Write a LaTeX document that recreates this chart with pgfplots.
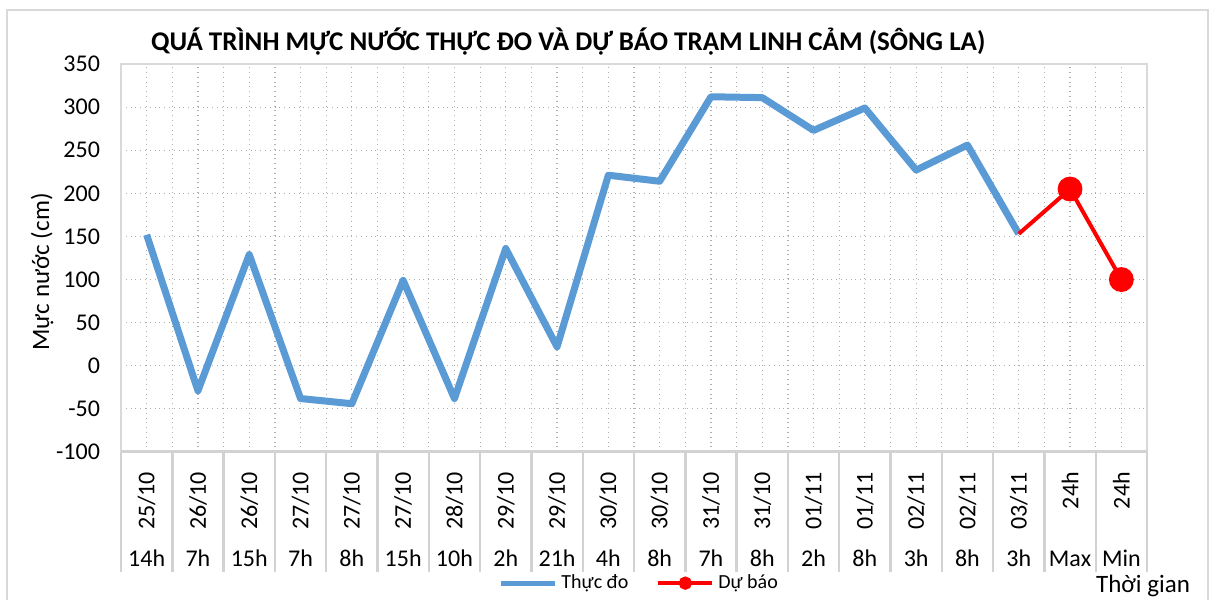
\documentclass[border=0pt]{standalone}
\usepackage{pgfplots}
\pgfplotsset{compat=1.18}
\usepackage{fontspec}
\setmainfont{Carlito}
\definecolor{blueline}{RGB}{91,155,213}
\definecolor{gridc}{RGB}{175,175,175}
\definecolor{framec}{RGB}{217,217,217}
\definecolor{sepc}{RGB}{210,210,210}
\newcommand{\tl}[2]{\rotatebox{90}{\makebox[33pt][r]{#1}}\\#2}

\begin{document}
\begin{tikzpicture}
\useasboundingbox (0pt,0pt) rectangle (608pt,300pt);
\draw[framec, line width=1.2pt] (3.5pt,0pt) -- (3.5pt,295pt) -- (604pt,295pt) -- (604pt,0pt);
\begin{axis}[
  at={(60.5pt,74pt)}, anchor=south west,
  scale only axis, width=513pt, height=194pt,
  xmin=-0.5, xmax=19.5, ymin=-100, ymax=350,
  clip=false,
  tick pos=left,
  major tick length=0pt, minor tick length=0pt,
  ytick={-100,-50,...,350},
  yticklabels={-100,-50,0,50,100,150,200,250,300,350},
  xtick={0,...,19},
  xticklabels={
    {\tl{25/10}{14h}},{\tl{26/10}{7h}},{\tl{26/10}{15h}},{\tl{27/10}{7h}},{\tl{27/10}{8h}},
    {\tl{27/10}{15h}},{\tl{28/10}{10h}},{\tl{29/10}{2h}},{\tl{29/10}{21h}},{\tl{30/10}{4h}},
    {\tl{30/10}{8h}},{\tl{31/10}{7h}},{\tl{31/10}{8h}},{\tl{01/11}{2h}},{\tl{01/11}{8h}},
    {\tl{02/11}{3h}},{\tl{02/11}{8h}},{\tl{03/11}{3h}},{\tl{24h}{Max}},{\tl{24h}{Min}}},
  minor x tick num=1,
  xmajorgrids, xminorgrids, ymajorgrids,
  major grid style={gridc, dotted, line width=0.6pt},
  minor grid style={gridc, dotted, line width=0.6pt},
  axis line style={framec, line width=1pt},
  yticklabel style={font=\fontsize{12}{14}\selectfont, text=black, xshift=-7pt},
  xticklabel style={font=\fontsize{12}{14}\selectfont, text=black, anchor=north, align=center, yshift=-6.5pt},
  legend style={at={(0.506,-0.338)}, anchor=center, draw=none, fill=none,
    font=\fontsize{10}{12}\selectfont, legend columns=2,
    /tikz/every even column/.append style={column sep=12pt}},
]
\pgfplotsinvokeforeach{-0.5,0.5,...,19.5}{
  \draw[sepc, line width=1.2pt] (axis cs:#1,-100) -- ++(0pt,-60pt);
}
\draw[sepc, line width=1.5pt] (axis cs:-0.5,-100) -- (axis cs:19.5,-100);
\addplot[blueline, line width=3.5pt, line join=round,
  legend image code/.code={\draw[blueline, line width=2.5pt] (0pt,0pt) -- (27pt,0pt);}]
  coordinates {(0,152)(1,-29)(2,129)(3,-38)(4,-44)(5,99)(6,-38)(7,136)(8,22)(9,221)(10,214)(11,312)(12,311)(13,273)(14,299)(15,227)(16,256)(17,153)};
\addlegendentry{Thực đo}
\addplot[red, line width=2pt, mark=*, mark size=5.2pt, mark indices={2,3},
  legend image code/.code={\draw[red, line width=2pt] (0pt,0pt) -- (27pt,0pt); \fill[red] (13.5pt,0pt) circle (2.3pt);}]
  coordinates {(17,153)(18,205)(19,100)};
\addlegendentry{Dự báo}
\end{axis}
\node[anchor=west, font=\bfseries\fontsize{13.5}{15}\selectfont] at (72pt,279pt) {QUÁ TRÌNH MỰC NƯỚC THỰC ĐO VÀ DỰ BÁO TRẠM LINH CẢM (SÔNG LA)};
\node[rotate=90, font=\fontsize{12.5}{14}\selectfont] at (21pt,164pt) {Mực nước (cm)};
\node[anchor=base east, font=\fontsize{12.5}{14}\selectfont] at (598.5pt,3.5pt) {Thời gian};
\end{tikzpicture}
\end{document}
